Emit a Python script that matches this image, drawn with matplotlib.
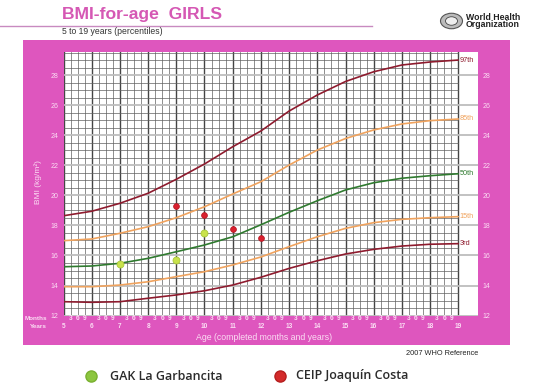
import matplotlib
matplotlib.use("Agg")
import matplotlib.pyplot as plt
from matplotlib.patches import Rectangle, Circle
from matplotlib.lines import Line2D

# ---------------- data ----------------
ages = [5, 6, 7, 8, 9, 10, 11, 12, 13, 14, 15, 16, 17, 18, 19]
p97 = [18.65, 18.95, 19.48, 20.15, 21.08, 22.10, 23.25, 24.30, 25.63, 26.70, 27.60, 28.25, 28.70, 28.90, 29.03]
p85 = [16.99, 17.10, 17.48, 17.92, 18.52, 19.25, 20.10, 20.92, 22.03, 23.03, 23.80, 24.37, 24.77, 24.99, 25.10]
p50 = [15.25, 15.30, 15.48, 15.81, 16.25, 16.70, 17.25, 18.05, 18.88, 19.65, 20.37, 20.85, 21.15, 21.32, 21.45]
p15 = [13.92, 13.92, 14.03, 14.25, 14.59, 14.92, 15.37, 15.90, 16.59, 17.25, 17.81, 18.19, 18.41, 18.52, 18.59]
p03 = [12.92, 12.88, 12.92, 13.15, 13.37, 13.65, 14.03, 14.55, 15.14, 15.65, 16.10, 16.41, 16.63, 16.75, 16.79]
percentile_labels = ["97th", "85th", "50th", "15th", "3rd"]

gak_age = [7.0, 9.0, 10.0]
gak_bmi = [15.45, 15.70, 17.52]
ceip_age = [9.0, 10.0, 11.0, 12.0]
ceip_bmi = [19.32, 18.70, 17.77, 17.19]

legend_names = ["GAK La Garbancita", "CEIP Joaquín Costa"]
yticks = [12, 14, 16, 18, 20, 22, 24, 26, 28]
year_ticks = list(range(5, 20))
month_labels = ["3", "6", "9"]

# ---------------- layout helpers ----------------
W, H = 545, 384
def fx(x):
    return x / W
def fy(y):
    return 1 - y / H

PINK = "#de56be"
TITLE_PINK = "#d558b4"
LABEL_PINK = "#fbdcf3"
MAROON = "#8e1b2e"
ORANGE = "#f0a35e"
GREEN = "#2f7a2f"

fig = plt.figure(figsize=(W / 100, H / 100), dpi=100)
fig.patch.set_facecolor("white")

# pink panel
fig.add_artist(Rectangle((fx(22.5), fy(345)), fx(510) - fx(22.5), fy(40) - fy(345),
                         transform=fig.transFigure, facecolor=PINK, edgecolor="none", zorder=0))

# title + rule
fig.text(fx(62), fy(14), "BMI-for-age  GIRLS", fontsize=12.6, fontweight="bold",
         color=TITLE_PINK, family="Liberation Sans", va="center", ha="left")
fig.add_artist(Line2D([0, fx(372)], [fy(25.5), fy(25.5)], transform=fig.transFigure,
                      color="#c88ac0", lw=1.0))
fig.text(fx(62.5), fy(32), "5 to 19 years (percentiles)", fontsize=6.2, color="#333333",
         family="Liberation Sans", va="center", ha="left")

# WHO logo (approximation)
fig.add_artist(Circle((fx(451.5), fy(21)), 11 / W, transform=fig.transFigure,
                      facecolor="#bbbbbb", edgecolor="#555555", lw=0.8))
fig.add_artist(Circle((fx(451.5), fy(21)), 6 / W, transform=fig.transFigure,
                      facecolor="#eeeeee", edgecolor="#444444", lw=0.6))
fig.text(fx(466), fy(17), "World Health", fontsize=6.3, fontweight="bold", color="#222222",
         family="Liberation Sans", va="center", ha="left")
fig.text(fx(466), fy(24.5), "Organization", fontsize=6.3, fontweight="bold", color="#222222",
         family="Liberation Sans", va="center", ha="left")

# main axes
x0, x1 = 63.5, 478
y0, y1 = 52, 315.5
ax = fig.add_axes([fx(x0), fy(y1), fx(x1) - fx(x0), fy(y0) - fy(y1)])
ax.set_facecolor("white")
px_per_year = 28.2
px_per_bmi = 15.0
xmax = 5 + (x1 - x0) / px_per_year
ymax = 12 + (y1 - y0) / px_per_bmi
ax.set_xlim(5, xmax)
ax.set_ylim(12, ymax)
for s in ax.spines.values():
    s.set_visible(False)

# grid
for k in range(0, 14 * 4 + 1):
    xv = 5 + k * 0.25
    if k % 4 == 0:
        ax.plot([xv, xv], [12, ymax], color="#444444", lw=1.0, zorder=1)
    else:
        ax.plot([xv, xv], [12, ymax], color="#606060", lw=0.5, zorder=1)
for k in range(0, 36):
    yv = 12 + k * 0.5
    if yv > ymax:
        break
    if k % 4 == 0:
        ax.plot([5, xmax], [yv, yv], color="#bdbdbd", lw=1.3, zorder=1)
    else:
        ax.plot([5, 19], [yv, yv], color="#606060", lw=0.5, zorder=1)

# percentile curves
curves = [p97, p85, p50, p15, p03]
colors = [MAROON, ORANGE, GREEN, ORANGE, MAROON]
for vals, col, lab in zip(curves, colors, percentile_labels):
    ax.plot(ages, vals, color=col, lw=1.2, zorder=3, solid_capstyle="round",
            solid_joinstyle="round")
    ax.text(19.05, vals[-1], lab, color=col, fontsize=5.3, va="center", ha="left",
            family="Liberation Sans", zorder=4)

# data points
ax.plot(gak_age, gak_bmi, linestyle="none", marker="o", markersize=5.0,
        markerfacecolor="#c9e24c", markeredgecolor="#a9c83a", markeredgewidth=0.6, zorder=5)
ax.plot(ceip_age, ceip_bmi, linestyle="none", marker="o", markersize=4.2,
        markerfacecolor="#d9202e", markeredgecolor="#b01522", markeredgewidth=0.5, zorder=5)

# y ticks both sides
ax.set_xticks([])
ax.set_yticks(yticks)
ax.set_yticklabels([str(v) for v in yticks])
ax.tick_params(axis="y", length=0, labelsize=5.0, labelcolor=LABEL_PINK, pad=3.5,
               left=True, right=True, labelleft=True, labelright=True)
for t in ax.get_yticklabels():
    t.set_family("Liberation Sans")

# y axis label
fig.text(fx(38), fy(182), "BMI (kg/m²)", rotation=90, fontsize=6.0, color=LABEL_PINK,
         family="Liberation Sans", va="center", ha="center")

# bottom month / year labels
fig.text(fx(47), fy(319), "Months", fontsize=4.6, color=LABEL_PINK, fontweight="bold",
         family="Liberation Sans", va="center", ha="right")
fig.text(fx(47), fy(326.5), "Years", fontsize=4.6, color=LABEL_PINK, fontweight="bold",
         family="Liberation Sans", va="center", ha="right")
trans_x = ax.get_xaxis_transform()
for yr in year_ticks:
    ax.text(yr, -(326.5 - y1) / (y1 - y0), str(yr), transform=trans_x, fontsize=4.7,
            color=LABEL_PINK, fontweight="bold", family="Liberation Sans",
            ha="center", va="center", clip_on=False)
    if yr < 19:
        for q, ml in enumerate(month_labels, start=1):
            ax.text(yr + q * 0.25, -(319 - y1) / (y1 - y0), ml, transform=trans_x,
                    fontsize=4.7, color=LABEL_PINK, fontweight="bold",
                    family="Liberation Sans", ha="center", va="center", clip_on=False)

fig.text(fx(264), fy(337), "Age (completed months and years)", fontsize=6.3,
         color=LABEL_PINK, family="Liberation Sans", va="center", ha="center")

fig.text(fx(478), fy(353.5), "2007 WHO Reference", fontsize=5.3, color="#222222",
         family="Liberation Sans", va="center", ha="right")

# legend
fig.add_artist(Line2D([fx(91)], [fy(376)], transform=fig.transFigure, marker="o",
                      markersize=8, markerfacecolor="#8cc63f", markeredgecolor="#79b030",
                      linestyle="none"))
fig.text(fx(110), fy(376), legend_names[0], fontsize=9.0, color="#2b2b2b",
         family="Open Sans", fontweight="semibold", va="center", ha="left")
fig.add_artist(Line2D([fx(280)], [fy(376)], transform=fig.transFigure, marker="o",
                      markersize=8, markerfacecolor="#d42a2a", markeredgecolor="#b51e1e",
                      linestyle="none"))
fig.text(fx(296.5), fy(376), legend_names[1], fontsize=9.0, color="#2b2b2b",
         family="Open Sans", fontweight="semibold", va="center", ha="left")

fig.savefig("out.png", dpi=100, facecolor="white")
